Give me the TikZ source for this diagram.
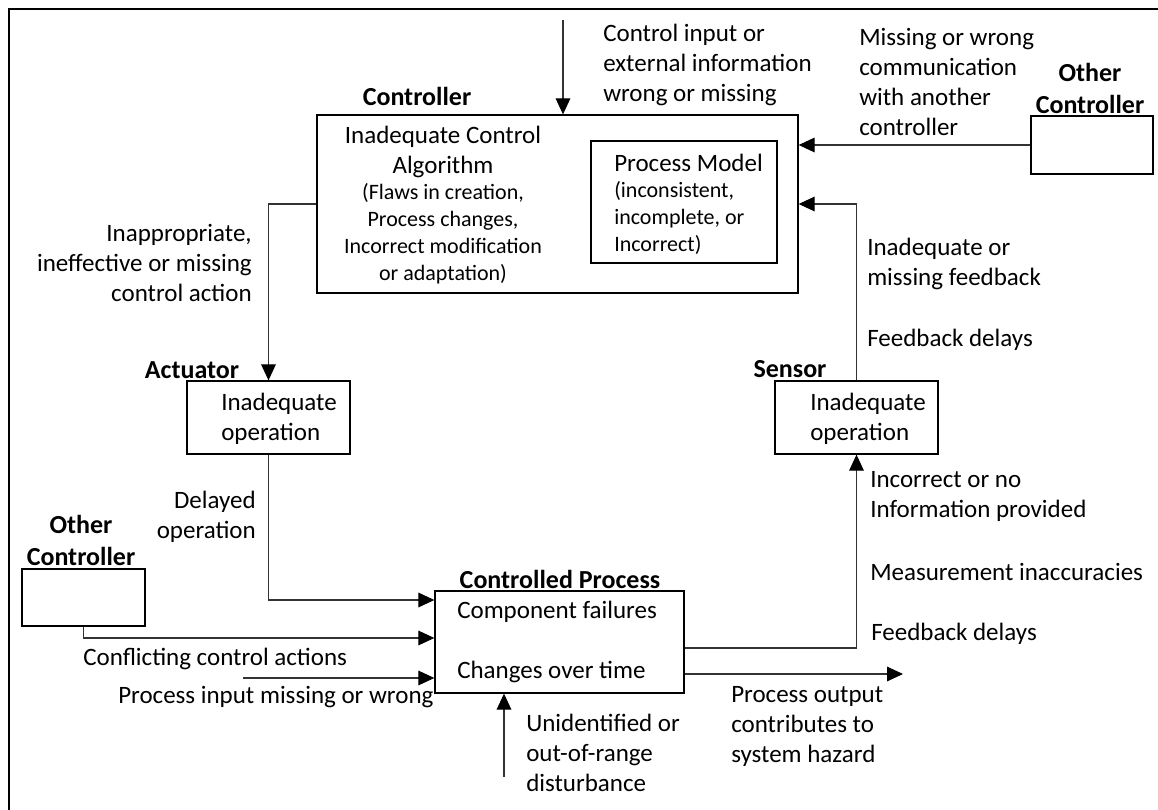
\documentclass[tikz,border=0pt]{standalone}
\usepackage{fontspec}
\setmainfont{Carlito}
\usetikzlibrary{arrows.meta}
\newcommand\fmain{\fontsize{18.75}{22.5}\selectfont}
\newcommand\fsmall{\fontsize{16.5}{20.25}\selectfont}
\newcommand\fhead{\fontsize{19.5}{24}\selectfont\bfseries}
\tikzset{
  box/.style={draw, line width=1pt, inner sep=0pt},
  txt/.style={inner sep=0pt, font=\fmain},
  head/.style={inner sep=0pt, font=\fhead, align=center},
  link/.style={draw=black!80, line width=0.8pt,
    -{Triangle[length=12pt,width=11pt,color=black]}},
}
\begin{document}
\begin{tikzpicture}[x=0.75pt,y=-0.75pt]
\useasboundingbox (0,0) rectangle (1158,810);
% outer frame (open to the right and bottom)
\draw[line width=2pt] (9,815) -- (9,9) -- (1165,9);

% boxes
\node[box, minimum width=360.75pt, minimum height=133.5pt] (ctrl) at (557.5,204) {};
\node[box, minimum width=139.5pt, minimum height=91.5pt] (pm) at (684,202) {};
\node[box, minimum width=91.5pt, minimum height=43.5pt] (oc1) at (1092,145) {};
\node[box, minimum width=122.25pt, minimum height=54.75pt] (act) at (268.5,417.5) {};
\node[box, minimum width=122.25pt, minimum height=54.75pt] (sen) at (856.5,417.5) {};
\node[box, minimum width=92.25pt, minimum height=42.75pt] (oc2) at (83.5,597.5) {};
\node[box, minimum width=186.75pt, minimum height=76.5pt] (cp) at (559.5,642) {};

% headings
\node[head] (hctrl) at (417,96) {Controller};
\node[head] (hoc1) at (1090,88) {Other\\Controller};
\node[head] (hact) at (192,370) {Actuator};
\node[head] (hsen) at (790,369) {Sensor};
\node[head] (hoc2) at (81,540) {Other\\Controller};
\node[head] (hcp) at (560,579) {Controlled Process};

% texts inside boxes
\node[txt, align=center] (tctrl) at (443,151.5) {Inadequate Control\\Algorithm};
\node[txt, align=center, font=\fsmall] (tctrl2) at (443,234) {(Flaws in creation,\\Process changes,\\Incorrect modification\\or adaptation)};
\node[txt, anchor=west] (tpm) at (614,163) {Process Model};
\node[txt, anchor=west, align=left, font=\fsmall] (tpm2) at (614,218) {(inconsistent,\\incomplete, or\\Incorrect)};
\node[txt, anchor=west, align=left] (tact) at (221,418.5) {Inadequate\\operation};
\node[txt, anchor=west, align=left] (tsen) at (810,418.5) {Inadequate\\operation};
\node[txt, anchor=west] (tcp1) at (457,612) {Component failures};
\node[txt, anchor=west] (tcp2) at (457,672) {Changes over time};

% labels along the connectors
\node[txt, anchor=west, align=left] (lin) at (603,64.5) {Control input or\\external information\\wrong or missing};
\node[txt, anchor=west, align=left] (lcom) at (859,82) {Missing or wrong\\communication\\with another\\controller};
\node[txt, anchor=east, align=right] (lca) at (252,263) {Inappropriate,\\ineffective or missing\\control action};
\node[txt, anchor=west, align=left] (lfb) at (867,264) {Inadequate or\\missing feedback};
\node[txt, anchor=west] (lfd1) at (867,340) {Feedback delays};
\node[txt, anchor=west, align=left] (linf) at (870,496.5) {Incorrect or no\\Information provided};
\node[txt, anchor=west] (lmeas) at (870,571.5) {Measurement inaccuracies};
\node[txt, anchor=west] (lfd2) at (871,634) {Feedback delays};
\node[txt, anchor=east, align=right] (ldel) at (256,517) {Delayed\\operation};
\node[txt, anchor=west] (lconf) at (83,659) {Conflicting control actions};
\node[txt, anchor=west] (lpin) at (118,697) {Process input missing or wrong};
\node[txt, anchor=west, align=left] (ldist) at (526,752.5) {Unidentified or\\out-of-range\\disturbance};
\node[txt, anchor=west, align=left] (lout) at (731,726) {Process output\\contributes to\\system hazard};

% free ends and levels
\coordinate (in1) at (563,20);
\coordinate (y600) at (0,600);
\coordinate (y638) at (0,638);
\coordinate (pin) at (243,678);
\coordinate (dist) at (504,777);
\coordinate (y648) at (0,648);
\coordinate (out) at (903,674);

% connectors
\draw[link] (in1) -- (in1 |- ctrl.north);
\draw[link] (oc1.west) -- (oc1.west -| ctrl.east);
\draw[link] (ctrl.west) -| (act.north);
\draw[link] (sen.north) |- (ctrl.east);
\draw[link] (act.south) |- (cp.west |- y600);
\draw[link] (oc2.south) |- (cp.west |- y638);
\draw[link] (pin) -- (cp.west |- pin);
\draw[link] (dist) -- (dist |- cp.south);
\draw[link] (cp.east |- y648) -| (sen.south);
\draw[link] (cp.east |- out) -- (out);
\end{tikzpicture}
\end{document}
